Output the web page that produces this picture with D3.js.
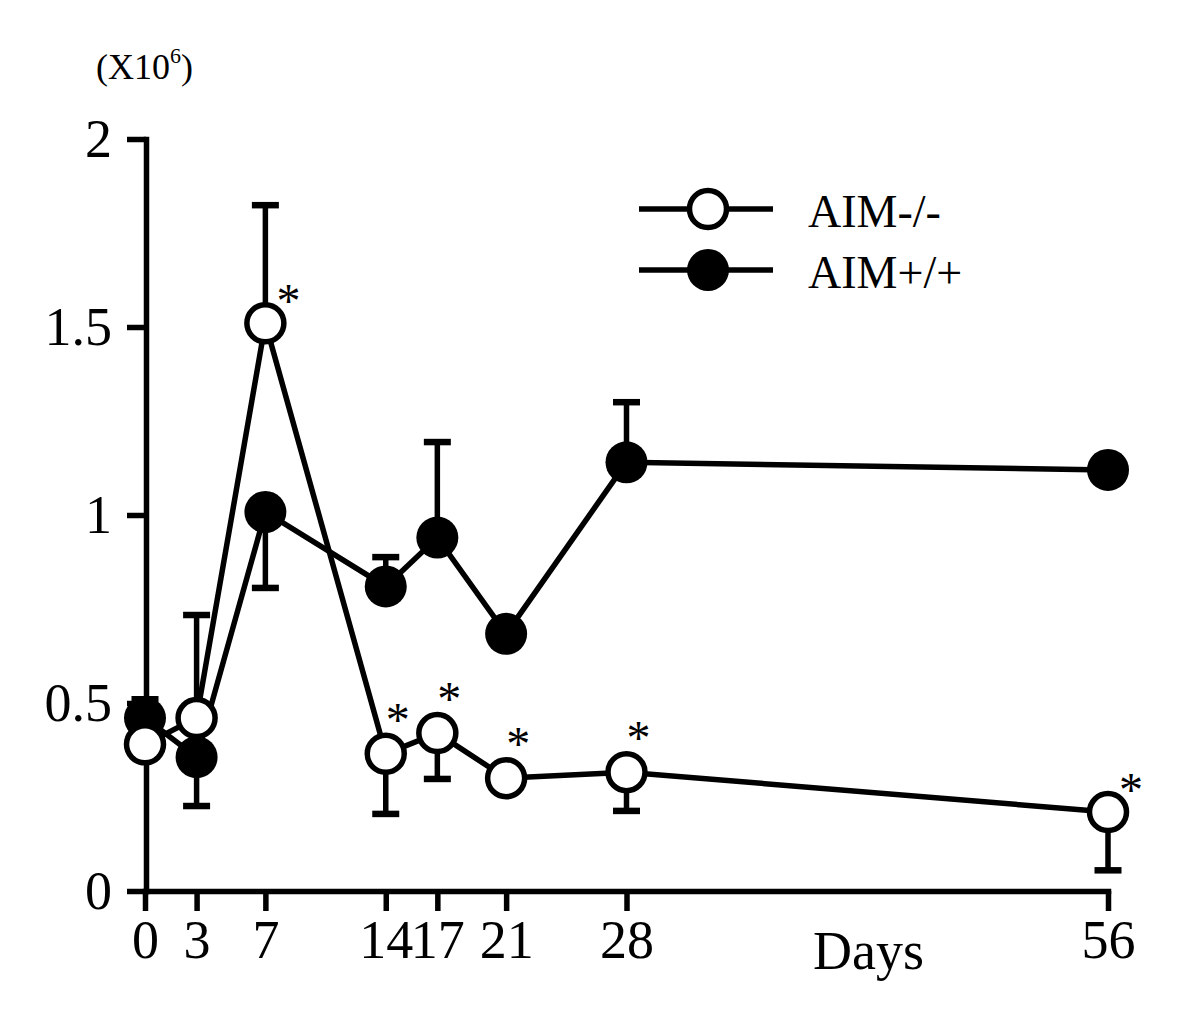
<!DOCTYPE html>
<html><head><meta charset="utf-8">
<script src="https://cdn.jsdelivr.net/npm/d3@7"></script>
<style>
html,body{margin:0;padding:0;background:#fff;}
svg{display:block;}
text{font-family:"Liberation Serif","Times New Roman",serif;fill:#000;}
</style></head>
<body><svg id="c" width="1200" height="1012"></svg>
<script>
// ---- data ----
const days = [0, 3, 7, 14, 17, 21, 28, 56];
const xTickLabels = ["0", "3", "7", "14", "17", "21", "28", "56"];
const yTicks = [0, 0.5, 1, 1.5, 2];
const yTickLabels = ["0", "0.5", "1", "1.5", "2"];
const seriesNames = ["AIM-/-", "AIM+/+"];
// AIM-/- (open circles)
const koMean = [0.39, 0.46, 1.51, 0.365, 0.42, 0.30, 0.316, 0.21];
const koErrEnd = [null, 0.734, 1.824, 0.205, 0.298, null, 0.213, 0.055];
const koSig = [false, false, true, true, true, true, true, true];
// AIM+/+ (filled circles)
const wtMean = [0.46, 0.356, 1.008, 0.81, 0.94, 0.684, 1.14, 1.12];
const wtErrEnd = [0.51, 0.226, 0.806, 0.888, 1.194, null, 1.30, 1.155];

// ---- drawing ----
const svg = d3.select("#c");
const x = d3.scaleLinear().domain([0, 56]).range([145, 1108]);
const y = d3.scaleLinear().domain([0, 2]).range([891, 139]);
const LW = 5.5;

// axes
const yAxis = d3.axisLeft(y).tickValues(yTicks)
  .tickFormat((d, i) => yTickLabels[i]).tickSize(19).tickSizeOuter(0).tickPadding(15);
const gy = svg.append("g").attr("transform", "translate(146,0)").call(yAxis);
const xAxis = d3.axisBottom(x).tickValues(days)
  .tickFormat((d, i) => xTickLabels[i]).tickSize(20).tickSizeOuter(0).tickPadding(9);
const gx = svg.append("g").attr("transform", "translate(0,891)").call(xAxis);
[gx, gy].forEach(g => {
  g.select(".domain").attr("stroke", "#000").attr("stroke-width", LW).attr("stroke-linecap", "square");
  g.selectAll(".tick line").attr("stroke", "#000").attr("stroke-width", LW);
  g.selectAll(".tick text").attr("font-size", 54).attr("font-family", "Liberation Serif, Times New Roman, serif").attr("fill", "#000");
});

// unit label
const unit = svg.append("text").attr("x", 96).attr("y", 79).attr("font-size", 36);
unit.append("tspan").text("(X10");
unit.append("tspan").attr("font-size", 22).attr("dy", -16).text("6");
unit.append("tspan").attr("dy", 16).text(")");

// axis title
svg.append("text").attr("x", 813).attr("y", 969).attr("font-size", 54).text("Days");

const line = d3.line().x((d, i) => x(days[i])).y(d => y(d));
const plot = svg.append("g");

// lines
plot.append("path").datum(wtMean).attr("d", line).attr("fill", "none")
  .attr("stroke", "#000").attr("stroke-width", LW).attr("stroke-linejoin", "miter");
plot.append("path").datum(koMean).attr("d", line).attr("fill", "none")
  .attr("stroke", "#000").attr("stroke-width", LW).attr("stroke-linejoin", "miter");

// error bars
function errBars(means, ends) {
  const data = days.map((d, i) => ({d, m: means[i], e: ends[i]})).filter(o => o.e !== null);
  const g = plot.append("g").attr("stroke", "#000").attr("stroke-width", LW);
  g.selectAll("line.v").data(data).join("line").attr("class", "v")
    .attr("x1", o => x(o.d)).attr("x2", o => x(o.d))
    .attr("y1", o => y(o.m)).attr("y2", o => y(o.e));
  g.selectAll("line.c").data(data).join("line").attr("class", "c")
    .attr("x1", o => x(o.d) - 13.5).attr("x2", o => x(o.d) + 13.5)
    .attr("y1", o => y(o.e)).attr("y2", o => y(o.e)).attr("stroke-width", 6.5);
}
errBars(wtMean, wtErrEnd);
errBars(koMean, koErrEnd);

// markers
plot.append("g").selectAll("circle").data(wtMean).join("circle")
  .attr("cx", (d, i) => x(days[i])).attr("cy", d => y(d)).attr("r", 21).attr("fill", "#000");
plot.append("g").selectAll("circle").data(koMean).join("circle")
  .attr("cx", (d, i) => x(days[i])).attr("cy", d => y(d)).attr("r", 18.5)
  .attr("fill", "#fff").attr("stroke", "#000").attr("stroke-width", LW);

// significance asterisks (placed beside when an upper error bar or edge is in the way)
const sideDays = new Set([7, 56]);
plot.append("g").selectAll("text").data(days.map((d, i) => ({d, i})).filter(o => koSig[o.i])).join("text")
  .attr("x", o => x(o.d) + (sideDays.has(o.d) ? 23 : 12))
  .attr("y", o => y(koMean[o.i]) + (sideDays.has(o.d) ? -28 : -40) + 22)
  .attr("text-anchor", "middle").attr("font-size", 48).text("*");

// legend
const leg = svg.append("g");
[0, 1].forEach(k => {
  const ly = 209 + k * 61;
  leg.append("line").attr("x1", 639).attr("x2", 773).attr("y1", ly).attr("y2", ly)
    .attr("stroke", "#000").attr("stroke-width", LW);
  if (k === 0) {
    leg.append("circle").attr("cx", 708).attr("cy", ly).attr("r", 18.5)
      .attr("fill", "#fff").attr("stroke", "#000").attr("stroke-width", LW);
  } else {
    leg.append("circle").attr("cx", 708).attr("cy", ly).attr("r", 21).attr("fill", "#000");
  }
  leg.append("text").attr("x", 808).attr("y", ly + 18).attr("font-size", 46).text(seriesNames[k]);
});
</script></body></html>
